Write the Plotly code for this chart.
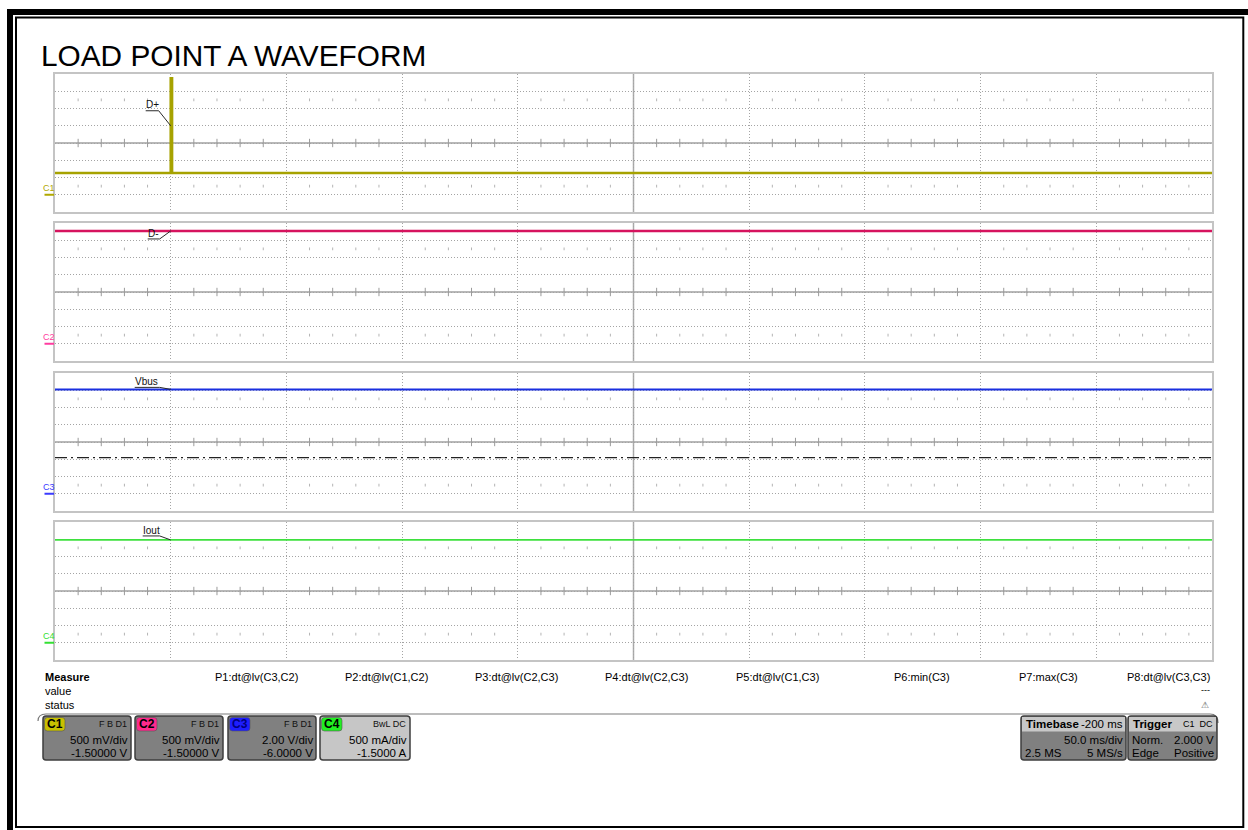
import plotly.graph_objects as go

W, H = 1248, 830
FONT = "Arial, Liberation Sans, sans-serif"

# ---------------- data ----------------
channels = ["C1", "C2", "C3", "C4"]
signal_names = ["D+", "D-", "Vbus", "Iout"]
units_per_div = [0.5, 0.5, 2.0, 0.5]          # V/div, V/div, V/div, A/div
channel_offsets = [-1.5, -1.5, -6.0, -1.5]    # offsets shown in channel boxes
time_range_ms = [-50, 450]                    # 50 ms/div, 10 divisions
time_per_div_ms = 50
trigger_time_ms = 0.0
trigger_level_v = 2.0

c1_t = [-50, 0.0, 0.0, 0.6, 0.6, 450]
c1_v = [0.63, 0.63, 3.38, 3.38, 0.63, 0.63]
c2_t = [-50, 450]
c2_v = [3.27, 3.27]
c3_t = [-50, 450]
c3_v = [12.1, 12.1]
c3_ref_t = [-50, 450]
c3_ref_v = [4.2, 4.2]
c4_t = [-50, 450]
c4_v = [2.98, 2.98]

trace_t = [c1_t, c2_t, c3_t, c4_t]
trace_v = [c1_v, c2_v, c3_v, c4_v]
label_anchor_v = [trigger_level_v, c2_v[0], c3_v[0], c4_v[0]]

measure_labels = ["P1:dt@lv(C3,C2)", "P2:dt@lv(C1,C2)", "P3:dt@lv(C2,C3)",
                  "P4:dt@lv(C2,C3)", "P5:dt@lv(C1,C3)", "P6:min(C3)",
                  "P7:max(C3)", "P8:dt@lv(C3,C3)"]
badge_header = ["F B D1", "F B D1", "F B D1", "BwL DC"]
badge_scale = ["500 mV/div", "500 mV/div", "2.00 V/div", "500 mA/div"]
badge_offset = ["-1.50000 V", "-1.50000 V", "-6.0000 V", "-1.5000 A"]

# ---------------- styles ----------------
trace_colors = ["#a6a200", "#d6135e", "#1a2fe0", "#3ee03e"]
badge_colors = ["#c8c000", "#ff2a8c", "#1e1eff", "#22ee22"]
label_colors = ["#b0a800", "#ff3ca0", "#3a3aff", "#33e033"]
trace_widths = [2.5, 2.5, 2, 1.8]
GRID = "#a4a4a4"

PX0, PX1 = 55, 1212
tops = [74, 223, 373, 522]
PH = 138


def X(x):
    return x / W


def Y(y):
    return 1 - y / H


fig = go.Figure()
shapes = []
annotations = []


def txt(x, y, s, size=11, color="black", anchor="left"):
    annotations.append(dict(x=X(x), y=Y(y), xref="paper", yref="paper", text=s,
                            showarrow=False, xanchor=anchor, yanchor="middle",
                            font=dict(size=size, color=color, family=FONT)))


def rrect(x0, y0, x1, y1, r, fill, line, lw):
    p = (f"M {X(x0 + r)},{Y(y0)} L {X(x1 - r)},{Y(y0)} Q {X(x1)},{Y(y0)} {X(x1)},{Y(y0 + r)} "
         f"L {X(x1)},{Y(y1 - r)} Q {X(x1)},{Y(y1)} {X(x1 - r)},{Y(y1)} "
         f"L {X(x0 + r)},{Y(y1)} Q {X(x0)},{Y(y1)} {X(x0)},{Y(y1 - r)} "
         f"L {X(x0)},{Y(y0 + r)} Q {X(x0)},{Y(y0)} {X(x0 + r)},{Y(y0)} Z")
    shapes.append(dict(type="path", xref="paper", yref="paper", path=p,
                       fillcolor=fill, line=dict(color=line, width=lw), layer="above"))


# label geometry: underline start/end, leader end (pixels, y up) and text shift
label_geom = [
    dict(ul=(-25, 15), ur=(-12, 15), tx=-18.5, ty=21),
    dict(ul=(-23, -8), ur=(-11, -8), tx=-17, ty=-3),
    dict(ul=(-36, 2), ur=(-11, 2), tx=-24, ty=7.5),
    dict(ul=(-28, 4), ur=(-11, 4), tx=-19.5, ty=9.5),
]

for i in range(4):
    n = "" if i == 0 else str(i + 1)
    xr, yr = "x" + n, "y" + n
    d = units_per_div[i]
    c = -channel_offsets[i]
    top = tops[i]
    fig.layout["xaxis" + n] = dict(
        domain=[X(PX0), X(PX1)], range=time_range_ms, dtick=time_per_div_ms,
        tick0=time_range_ms[0], showgrid=True, gridcolor=GRID, griddash="1px,2px",
        gridwidth=1, showline=True, mirror=True, linecolor="#c4c4c4", linewidth=2,
        zeroline=False, showticklabels=False, ticks="", anchor=yr, fixedrange=True)
    fig.layout["yaxis" + n] = dict(
        domain=[Y(top + PH), Y(top)], range=[c - 4 * d, c + 4 * d], dtick=d, tick0=c,
        showgrid=True, gridcolor=GRID, griddash="1px,2px", gridwidth=1,
        showline=True, mirror=True, linecolor="#c4c4c4", linewidth=2,
        zeroline=False, showticklabels=False, ticks="", anchor=xr, fixedrange=True)

    # solid centre lines
    tc = (time_range_ms[0] + time_range_ms[1]) / 2
    shapes.append(dict(type="line", xref=xr, yref=yr + " domain", x0=tc, x1=tc, y0=0, y1=1,
                       line=dict(color="#ababab", width=1.5), layer="below"))
    shapes.append(dict(type="line", xref=xr + " domain", yref=yr, x0=0, x1=1, y0=c, y1=c,
                       line=dict(color="#a0a0a0", width=1.5), layer="below"))

    # minor ticks on centre line + dot rows
    sub = time_per_div_ms / 5
    nsub = int(round((time_range_ms[1] - time_range_ms[0]) / sub))
    mx = [time_range_ms[0] + k * sub for k in range(1, nsub) if k % 5 != 0]
    fig.add_trace(go.Scatter(x=mx, y=[c] * len(mx), xaxis=xr, yaxis=yr, mode="markers",
                             marker=dict(symbol="line-ns", size=6,
                                         line=dict(color="#9a9a9a", width=1)),
                             hoverinfo="skip"))
    for s in (-2.5, 2.5):
        fig.add_trace(go.Scatter(x=mx, y=[c + s * d] * len(mx), xaxis=xr, yaxis=yr,
                                 mode="markers",
                                 marker=dict(symbol="line-ns", size=2,
                                             line=dict(color="#b4b4b4", width=1)),
                                 hoverinfo="skip"))

    if i == 2:
        fig.add_trace(go.Scatter(x=c3_ref_t, y=c3_ref_v, xaxis=xr, yaxis=yr, mode="lines",
                                 line=dict(color="#222222", width=1.3, dash="12px,4px,2px,4px"),
                                 hoverinfo="skip"))

    # waveform
    fig.add_trace(go.Scatter(x=trace_t[i], y=trace_v[i], xaxis=xr, yaxis=yr, mode="lines",
                             line=dict(color=trace_colors[i], width=trace_widths[i]),
                             hoverinfo="skip"))

    # trigger position marker under the panel
    fig.add_trace(go.Scatter(x=[trigger_time_ms], y=[c - 4 * d - 0.2 * d], xaxis=xr, yaxis=yr,
                             mode="markers", cliponaxis=False,
                             marker=dict(symbol="triangle-up", size=8, color=badge_colors[i]),
                             hoverinfo="skip"))
    if i == 0:
        fig.add_trace(go.Scatter(x=[time_range_ms[1] + 0.04 * time_per_div_ms],
                                 y=[trigger_level_v], xaxis=xr, yaxis=yr, mode="markers",
                                 cliponaxis=False,
                                 marker=dict(symbol="triangle-left", size=8,
                                             color=trace_colors[0]),
                                 hoverinfo="skip"))

    # signal label with underline and leader
    g = label_geom[i]
    shapes.append(dict(type="path", xref=xr, yref=yr, xsizemode="pixel", ysizemode="pixel",
                       xanchor=trigger_time_ms, yanchor=label_anchor_v[i],
                       path=f"M {g['ul'][0]},{g['ul'][1]} L {g['ur'][0]},{g['ur'][1]} L 0,0",
                       line=dict(color="#2a2a2a", width=1), layer="above"))
    annotations.append(dict(x=trigger_time_ms, y=label_anchor_v[i], xref=xr, yref=yr,
                            text=signal_names[i], showarrow=False, xshift=g["tx"],
                            yshift=g["ty"], xanchor="center", yanchor="middle",
                            font=dict(size=10, color="#111111", family=FONT)))

    # channel ground marker on the left
    annotations.append(dict(x=X(48.5), y=0, xref="paper", yref=yr, text=channels[i],
                            showarrow=False, yshift=6.5, xanchor="center", yanchor="middle",
                            font=dict(size=9, color=label_colors[i], family=FONT)))
    shapes.append(dict(type="line", xref="paper", yref=yr, x0=X(44.5), x1=X(54), y0=0, y1=0,
                       line=dict(color=label_colors[i], width=2)))

# ---------------- title & frame ----------------
txt(39, 55, "LOAD POINT A WAVEFORM", size=29.8)
shapes.append(dict(type="rect", xref="paper", yref="paper", x0=X(7), x1=X(1248), y0=Y(15),
                   y1=Y(9), fillcolor="black", line=dict(width=0)))
shapes.append(dict(type="rect", xref="paper", yref="paper", x0=X(7), x1=X(13), y0=Y(830),
                   y1=Y(9), fillcolor="black", line=dict(width=0)))
shapes.append(dict(type="rect", xref="paper", yref="paper", x0=X(16), x1=X(1243.3),
                   y0=Y(827), y1=Y(17.5), line=dict(color="black", width=2)))

# ---------------- measurement row ----------------
txt(43, 677, "<b>Measure</b>", size=11)
txt(43, 691, "value", size=11)
txt(43, 705, "status", size=11)
meas_right = [300, 430, 560, 690, 821, 952, 1080, 1212]
for lab, xr_ in zip(measure_labels, meas_right):
    txt(xr_, 677, lab, size=11, anchor="right")
txt(1212, 690, "---", size=9, anchor="right")
txt(1205, 705, "⚠", size=9, color="#555555", anchor="center")
shapes.append(dict(type="path", xref="paper", yref="paper",
                   path=(f"M {X(38)},{Y(721)} Q {X(38)},{Y(714)} {X(46)},{Y(714)} "
                         f"L {X(1210)},{Y(714)} Q {X(1218)},{Y(714)} {X(1218)},{Y(723)}"),
                   line=dict(color="#7a7a7a", width=1.2)))

# ---------------- channel boxes ----------------
bx0 = [43, 135, 228, 320]
bx1 = [131, 223, 316, 410]
for i in range(4):
    x0, x1 = bx0[i], bx1[i]
    body = "#c6c6c6" if i == 3 else "#808080"
    rrect(x0, 716, x1, 760, 3, body, "#3e3e3e", 1.5)
    rrect(x0 + 1.5, 717.5, x0 + 22, 731, 3, badge_colors[i], "#555555", 0.6)
    tcol = "#000080" if i == 2 else "black"
    txt(x0 + 11.8, 724, f"<b>{channels[i]}</b>", size=12, color=tcol, anchor="center")
    txt(x1 - 2, 723.5, badge_header[i], size=9, color="#111111", anchor="right")
    txt(x1 - 1.5, 739.5, badge_scale[i], size=11.5, anchor="right")
    txt(x1 - 1.5, 752.5, badge_offset[i], size=11.5, anchor="right")

# timebase box
rrect(1021, 716, 1126, 760, 3, "#808080", "#3e3e3e", 1.5)
shapes.append(dict(type="rect", xref="paper", yref="paper", x0=X(1022), x1=X(1125),
                   y0=Y(731.5), y1=Y(717), fillcolor="#c8c8c8", line=dict(width=0)))
txt(1023.5, 724, "<b>Timebase</b>", size=11.5)
txt(1124.5, 724, "-200 ms", size=11.5, anchor="right")
txt(1124.5, 740, "50.0 ms/div", size=11.5, anchor="right")
txt(1023, 752.5, "2.5 MS", size=11.5)
txt(1124.5, 752.5, "5 MS/s", size=11.5, anchor="right")

# trigger box
rrect(1128, 716, 1217, 760, 3, "#808080", "#3e3e3e", 1.5)
shapes.append(dict(type="rect", xref="paper", yref="paper", x0=X(1129), x1=X(1216),
                   y0=Y(731.5), y1=Y(717), fillcolor="#c8c8c8", line=dict(width=0)))
txt(1130.5, 724, "<b>Trigger</b>", size=11.5)
txt(1215, 724, "C1  DC", size=9, anchor="right")
txt(1130, 740, "Norm.", size=11.5)
txt(1215.5, 740, "2.000 V", size=11.5, anchor="right")
txt(1130, 752.5, "Edge", size=11.5)
txt(1215.5, 752.5, "Positive", size=11.5, anchor="right")

fig.update_layout(
    width=W, height=H, margin=dict(l=0, r=0, t=0, b=0),
    paper_bgcolor="white", plot_bgcolor="white", showlegend=False,
    hovermode=False, shapes=shapes, annotations=annotations,
    font=dict(family=FONT),
)

fig.write_html("out.html", config={"displayModeBar": False},
               post_script="document.body.style.margin='0px';document.body.style.overflow='hidden';")
